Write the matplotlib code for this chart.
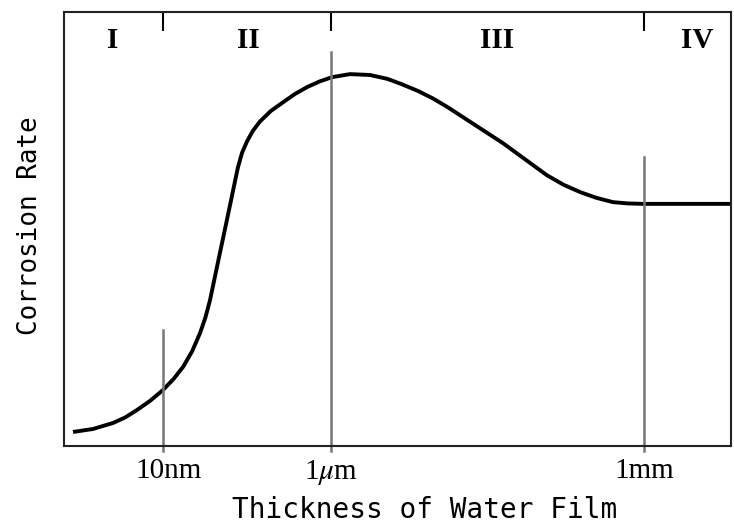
import matplotlib
matplotlib.use("Agg")
import matplotlib.pyplot as plt
from matplotlib.transforms import ScaledTranslation

plt.rcParams['mathtext.fontset'] = 'stix'

# x positions on an arbitrary 0-100 scale (not a true log axis)
tick_pos = [14.8, 40.0, 87.0]
tick_labels = ['10nm', r'1$\mu$m', '1mm']

# tops of the gray marker lines at each tick
line_tops = [26.7, 90.8, 66.6]

# region labels
regions = ['I', 'II', 'III', 'IV']
region_x = [7.3, 27.6, 64.9, 94.9]

# corrosion rate curve
curve_x = [1.35, 4.35, 7.35, 9.2, 10.94, 12.9, 14.84, 16.4, 17.84, 19.2, 20.39,
           21.2, 21.89, 23.09, 24.0, 24.89, 25.5, 26.09, 26.7, 27.44, 28.3, 29.39,
           31.0, 32.83, 34.6, 36.43, 38.3, 40.18, 42.88, 45.88, 48.5, 50.6, 53.1,
           55.3, 57.4, 59.8, 62.8, 65.8, 69.1, 72.4, 74.9, 77.4, 79.8, 82.3, 84.5,
           86.8, 100.0]
curve_y = [3.23, 3.92, 5.3, 6.6, 8.29, 10.4, 12.9, 15.4, 18.2, 21.8, 26.0,
           29.6, 33.6, 42.4, 49.0, 55.5, 60.0, 64.3, 67.6, 70.2, 72.6, 74.8,
           77.2, 79.2, 81.1, 82.7, 84.0, 85.0, 85.7, 85.5, 84.6, 83.4, 81.8,
           80.1, 78.2, 75.8, 72.8, 69.8, 66.1, 62.4, 60.2, 58.5, 57.2, 56.2, 55.9,
           55.8, 55.8]

fig = plt.figure(figsize=(7.34, 5.25), dpi=100)
ax = fig.add_axes([0.0872, 0.1505, 0.9087, 0.8265])

ax.plot(curve_x, curve_y, color='black', lw=2.8, solid_capstyle='butt',
        solid_joinstyle='round')

for x, top in zip(tick_pos, line_tops):
    ax.plot([x, x], [-1.2, top], color='#777777', lw=1.8, clip_on=False)

for name, x in zip(regions, region_x):
    ax.text(x, 93.5, name, ha='center', va='center', fontsize=21,
            fontweight='bold', family='Liberation Serif')

ax.set_xlim(0, 100)
ax.set_ylim(0, 100)
ax.set_yticks([])
ax.set_xticks(tick_pos)
ax.set_xticklabels(tick_labels, family='Liberation Serif', fontsize=21)
ax.tick_params(axis='x', bottom=False, top=True, direction='in', length=14,
               width=1.5, pad=9, labelbottom=True, labeltop=False)

# the 10nm label sits a little right of its line in the original
lab = ax.get_xticklabels()[0]
lab.set_transform(lab.get_transform() + ScaledTranslation(6 / 100, 0, fig.dpi_scale_trans))

for s in ax.spines.values():
    s.set_linewidth(1.5)
    s.set_color('#222222')

fig.text(0.578, 0.028, 'Thickness of Water Film', ha='center', va='center',
         fontsize=20, family='DejaVu Sans Mono')
fig.text(0.041, 0.571, 'Corrosion Rate', ha='center', va='center',
         rotation=90, fontsize=18.6, family='DejaVu Sans Mono')

fig.savefig('out.png', dpi=100)
